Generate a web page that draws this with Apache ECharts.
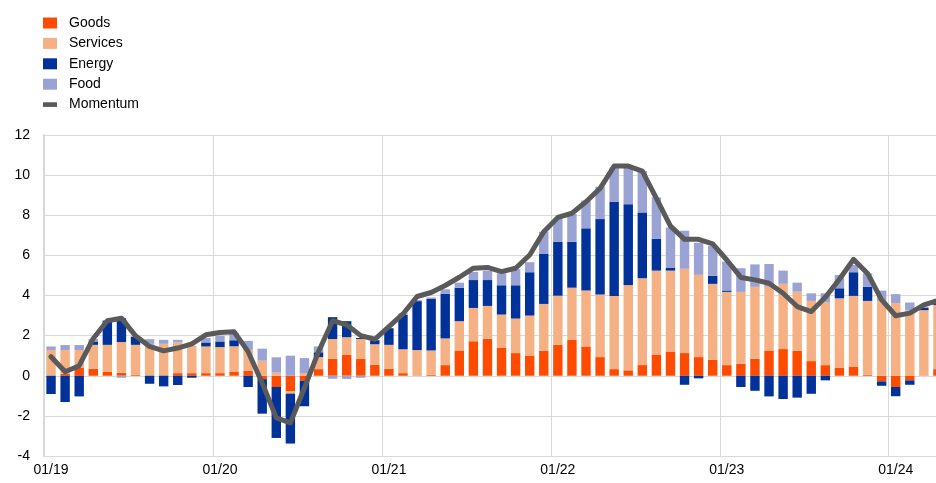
<!DOCTYPE html>
<html>
<head>
<meta charset="utf-8">
<script src="https://cdn.jsdelivr.net/npm/echarts@6/dist/echarts.min.js"></script>
<style>
  html, body { margin: 0; padding: 0; background: #fff; }
  #chart { width: 936px; height: 483px; overflow: hidden; }
</style>
</head>
<body>
<div id="chart"></div>
<script>
// months 01/19 .. 04/24 (last one is cut off at the right edge)
var months = [
  '01/19','02/19','03/19','04/19','05/19','06/19','07/19','08/19','09/19','10/19','11/19','12/19',
  '01/20','02/20','03/20','04/20','05/20','06/20','07/20','08/20','09/20','10/20','11/20','12/20',
  '01/21','02/21','03/21','04/21','05/21','06/21','07/21','08/21','09/21','10/21','11/21','12/21',
  '01/22','02/22','03/22','04/22','05/22','06/22','07/22','08/22','09/22','10/22','11/22','12/22',
  '01/23','02/23','03/23','04/23','05/23','06/23','07/23','08/23','09/23','10/23','11/23','12/23',
  '01/24','02/24','03/24','04/24'
];

var goods = [
  0, 0.1, 0.41, 0.35, 0.2, 0.15, 0.05, 0, 0.02, 0.13, 0.13, 0.13,
  0.13, 0.21, 0.25, -0.17, -0.56, -0.78, -0.25, 0.33, 0.85, 1.04, 0.84, 0.55,
  0.35, 0.13, 0.02, 0.05, 0.53, 1.26, 1.72, 1.84, 1.39, 1.13, 1.0, 1.24,
  1.54, 1.79, 1.46, 0.93, 0.33, 0.27, 0.53, 1.06, 1.21, 1.13, 0.93, 0.8,
  0.53, 0.6, 0.85, 1.26, 1.33, 1.24, 0.73, 0.53, 0.41, 0.46, 0.05, -0.28,
  -0.56, -0.23, 0.02, 0.33
];
var services = [
  1.28, 1.18, 0.87, 1.19, 1.34, 1.53, 1.49, 1.59, 1.57, 1.53, 1.36, 1.33,
  1.3, 1.26, 1.04, 0.75, 0.16, -0.11, 0.13, 0.6, 0.98, 0.88, 0.99, 1.02,
  1.19, 1.19, 1.26, 1.21, 1.33, 1.46, 1.66, 1.64, 1.66, 1.72, 2.0, 2.34,
  2.45, 2.6, 2.79, 3.12, 3.65, 4.25, 4.33, 4.18, 4.03, 4.2, 4.1, 3.78,
  3.65, 3.58, 3.58, 3.18, 3.25, 2.95, 3.0, 3.12, 3.45, 3.52, 3.68, 3.73,
  3.62, 3.27, 3.25, 3.2
];
var energy = [
  -0.91, -1.31, -1.03, 0.17, 1.19, 1.19, 0.41, -0.4, -0.53, -0.46, -0.1, 0.2,
  0.28, 0.3, -0.56, -1.72, -2.54, -2.49, -1.27, 0.24, 1.09, 0.8, 0.05, 0.2,
  0.83, 1.71, 2.44, 2.57, 2.22, 1.67, 1.39, 1.29, 1.46, 1.66, 2.16, 2.49,
  2.69, 2.29, 3.1, 3.76, 4.69, 4.03, 3.28, 1.58, 0.13, -0.45, -0.13, 0.4,
  0.07, -0.56, -0.75, -1.03, -1.16, -1.09, -0.9, -0.23, 0.5, 1.18, 0.71, -0.22,
  -0.46, -0.22, 0.12, 0.1
];
var food = [
  0.18, 0.25, 0.25, 0.12, 0.05, -0.1, 0, 0.23, 0.2, 0.13, 0, 0.22,
  0.28, 0.37, 0.45, 0.6, 0.76, 1.0, 0.75, 0.29, -0.15, -0.16, -0.1, 0,
  0, 0.08, 0.05, 0.07, 0.23, 0.25, 0.41, 0.46, 0.6, 0.8, 0.5, 1.11,
  1.16, 1.38, 1.38, 1.61, 1.71, 1.84, 2.07, 2.07, 2.02, 1.9, 1.6, 1.49,
  1.44, 1.18, 1.12, 1.13, 0.66, 0.45, 0.38, 0.46, 0.66, 0.36, 0.66, 0.51,
  0.45, 0.38, 0.05, 0.2
];
var momentum = [
  0.95, 0.2, 0.5, 1.86, 2.74, 2.87, 1.99, 1.46, 1.24, 1.38, 1.59, 2.04,
  2.16, 2.19, 1.2, -0.36, -2.1, -2.35, -0.6, 1.2, 2.74, 2.54, 2.0, 1.82,
  2.45, 3.08, 3.95, 4.15, 4.5, 4.91, 5.36, 5.4, 5.19, 5.36, 6.02, 7.18,
  7.89, 8.1, 8.67, 9.34, 10.45, 10.45, 10.2, 8.84, 7.46, 6.8, 6.8, 6.57,
  5.77, 4.9, 4.78, 4.61, 4.11, 3.45, 3.2, 3.91, 4.81, 5.8, 5.1, 3.78,
  2.99, 3.12, 3.53, 3.75
];

var yMin = -4, yMax = 12, yStep = 2;

var fontFam = '"Liberation Sans", Arial, sans-serif';
var gridColor = '#d9d9d9';

function barSeries(name, data, color) {
  return {
    name: name,
    type: 'bar',
    stack: 'total',
    data: data,
    barWidth: 9.4,
    itemStyle: { color: color },
    emphasis: { disabled: true }
  };
}

var myChart = echarts.init(document.getElementById('chart'));
myChart.setOption({
  animation: false,
  backgroundColor: '#fff',
  textStyle: { fontFamily: fontFam },
  legend: {
    orient: 'vertical',
    left: 38,
    top: 11,
    itemWidth: 14,
    itemHeight: 11,
    itemGap: 6.4,
    textStyle: { fontSize: 14, color: '#000', lineHeight: 14, padding: [0, 0, 0, 7] },
    data: [
      { name: 'Goods', icon: 'rect' },
      { name: 'Services', icon: 'rect' },
      { name: 'Energy', icon: 'rect' },
      { name: 'Food', icon: 'rect' },
      { name: 'Momentum', icon: 'path://M0,0h15v5h-15z' }
    ]
  },
  grid: {
    left: 44,
    top: 135,
    bottom: 27,
    width: 901, // wider than the window: the last month is cut off like in the original
    containLabel: false,
    outerBoundsMode: 'none'
  },
  xAxis: {
    type: 'category',
    data: months,
    boundaryGap: true,
    axisLine: { show: true, onZero: false, lineStyle: { color: gridColor, width: 1 } },
    axisTick: { show: false },
    axisLabel: {
      interval: 11,
      color: '#000',
      fontSize: 14,
      margin: 7
    },
    splitLine: { show: true, interval: 11, lineStyle: { color: gridColor, width: 1 } }
  },
  yAxis: {
    type: 'value',
    min: yMin,
    max: yMax,
    interval: yStep,
    axisLine: { show: true, lineStyle: { color: gridColor, width: 2 } },
    axisTick: { show: false },
    axisLabel: { color: '#000', fontSize: 14, margin: 14 },
    splitLine: { show: true, lineStyle: { color: gridColor, width: 1 } }
  },
  series: [
    barSeries('Goods', goods, '#ff4b00'),
    barSeries('Services', services, '#f5b183'),
    barSeries('Energy', energy, '#003299'),
    barSeries('Food', food, '#9aa3d4'),
    {
      name: 'Momentum',
      type: 'line',
      data: momentum,
      symbol: 'none',
      smooth: false,
      lineStyle: { color: '#5a5a5a', width: 5, cap: 'round', join: 'round' },
      itemStyle: { color: '#5a5a5a' },
      emphasis: { disabled: true },
      z: 5
    }
  ]
});
</script>
</body>
</html>
